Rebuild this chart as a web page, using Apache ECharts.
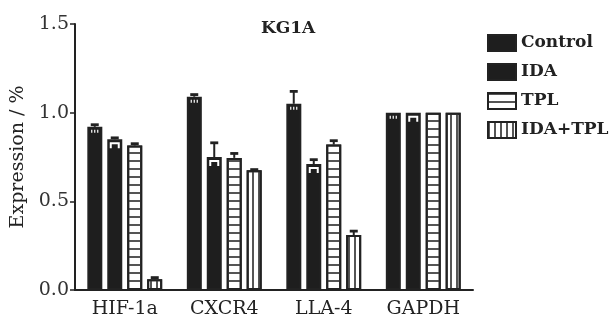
<!DOCTYPE html>
<html>
<head>
<meta charset="utf-8">
<script src="https://cdn.jsdelivr.net/npm/echarts@6/dist/echarts.min.js"></script>
<style>html,body{margin:0;padding:0;background:#fff;}#c{width:610px;height:322px;}</style>
</head>
<body>
<div id="c"></div>
<script>
const categories = ['HIF-1a', 'CXCR4', 'LLA-4', 'GAPDH'];
const seriesNames = ['Control', 'IDA', 'TPL', 'IDA+TPL'];
const controlValues = [0.92, 1.09, 1.05, 1.0];
const controlErr = [0.012, 0.012, 0.07, 0];
const idaValues = [0.85, 0.75, 0.71, 1.0];
const idaErr = [0.008, 0.08, 0.025, 0];
const tplValues = [0.815, 0.745, 0.82, 1.0];
const tplErr = [0.01, 0.025, 0.022, 0];
const comboValues = [0.06, 0.675, 0.31, 1.0];
const comboErr = [0.01, 0.004, 0.022, 0];
const yTicks = [0, 0.5, 1.0, 1.5];

const allValues = [controlValues, idaValues, tplValues, comboValues];
const allErr = [controlErr, idaErr, tplErr, comboErr];

const FONT = 'DejaVu Serif';
const INK = '#222';
const BAR_W = 15;
const BAR_GAP = '33%';
const STEP = 20; // center-to-center distance between bars in a group

const styles = [
  { color: '#1e1e1e', borderColor: INK, borderWidth: 2 },
  { color: '#1e1e1e', borderColor: INK, borderWidth: 2 },
  { color: '#ffffff', borderColor: INK, borderWidth: 2,
    decal: { symbol: 'rect', symbolSize: 1, color: '#555', dashArrayX: [1, 0], dashArrayY: [1.2, 5.4], rotation: 0 } },
  { color: '#ffffff', borderColor: INK, borderWidth: 2,
    decal: { symbol: 'rect', symbolSize: 1, color: '#555', dashArrayX: [1.2, 3.6], dashArrayY: [1, 0], rotation: 0 } }
];

const barSeries = seriesNames.map((name, i) => ({
  name: name,
  type: 'bar',
  data: allValues[i],
  barWidth: BAR_W,
  barGap: BAR_GAP,
  itemStyle: styles[i],
  emphasis: { disabled: true },
  z: 2
}));

const errData = [];
allValues.forEach((vals, s) => {
  vals.forEach((v, c) => errData.push([c, v, allErr[s][c], s]));
});

const errSeries = {
  type: 'custom',
  data: errData,
  z: 3,
  silent: true,
  renderItem: function (params, api) {
    const c = api.value(0), v = api.value(1), e = api.value(2), s = api.value(3);
    const off = (s - (seriesNames.length - 1) / 2) * STEP;
    const base = api.coord([c, v]);
    const top = api.coord([c, v + e]);
    const x = base[0] + off;
    const children = [];
    if (e > 0) {
      children.push({ type: 'line', shape: { x1: x, y1: base[1], x2: x, y2: top[1] }, style: { stroke: INK, lineWidth: 2 } });
      children.push({ type: 'line', shape: { x1: x - 4, y1: top[1], x2: x + 4, y2: top[1] }, style: { stroke: INK, lineWidth: 2.8 } });
    }
    if (s === 0) {
      for (let k = -1; k <= 1; k++) {
        children.push({ type: 'rect', shape: { x: x + k * 3 - 0.6, y: base[1] + 3, width: 1.2, height: 3 }, style: { fill: '#fff' } });
      }
    } else if (s === 1) {
      children.push({ type: 'polyline', shape: { points: [[x - 4, base[1] + 9], [x - 4, base[1] + 4], [x + 4, base[1] + 4], [x + 4, base[1] + 9]] }, style: { stroke: '#fff', lineWidth: 2, fill: null } });
    }
    return { type: 'group', children: children };
  }
};

const chart = echarts.init(document.getElementById('c'), null, { renderer: 'canvas' });
chart.setOption({
  animation: false,
  backgroundColor: '#fff',
  title: {
    text: 'KG1A',
    left: 256, top: 15,
    textStyle: { fontFamily: FONT, fontSize: 17, fontWeight: 'bold', color: INK }
  },
  legend: {
    data: seriesNames,
    orient: 'vertical',
    left: 482, top: 29,
    itemWidth: 28, itemHeight: 16, itemGap: 11,
    icon: 'rect',
    textStyle: { fontFamily: FONT, fontSize: 17, fontWeight: 'bold', color: INK },
    selectedMode: false
  },
  grid: { left: 75, right: 137, top: 24, bottom: 32, containLabel: false },
  xAxis: {
    type: 'category',
    data: categories,
    axisLine: { lineStyle: { color: INK, width: 2 } },
    axisTick: { alignWithLabel: true, length: 5, lineStyle: { color: INK, width: 1.5 } },
    axisLabel: { fontFamily: FONT, fontSize: 19, color: INK, margin: 10 }
  },
  yAxis: {
    type: 'value',
    min: yTicks[0], max: yTicks[yTicks.length - 1], interval: 0.5,
    name: 'Expression / %',
    nameLocation: 'middle',
    nameGap: 47,
    nameTextStyle: { fontFamily: FONT, fontSize: 19, color: INK },
    axisLine: { show: true, lineStyle: { color: INK, width: 2 } },
    axisTick: { show: true, length: 5, lineStyle: { color: INK, width: 1.5 } },
    axisLabel: { fontFamily: FONT, fontSize: 19, color: '#333', margin: 6, formatter: v => v.toFixed(1) },
    splitLine: { show: false }
  },
  series: barSeries.concat([errSeries])
});
</script>
</body>
</html>
